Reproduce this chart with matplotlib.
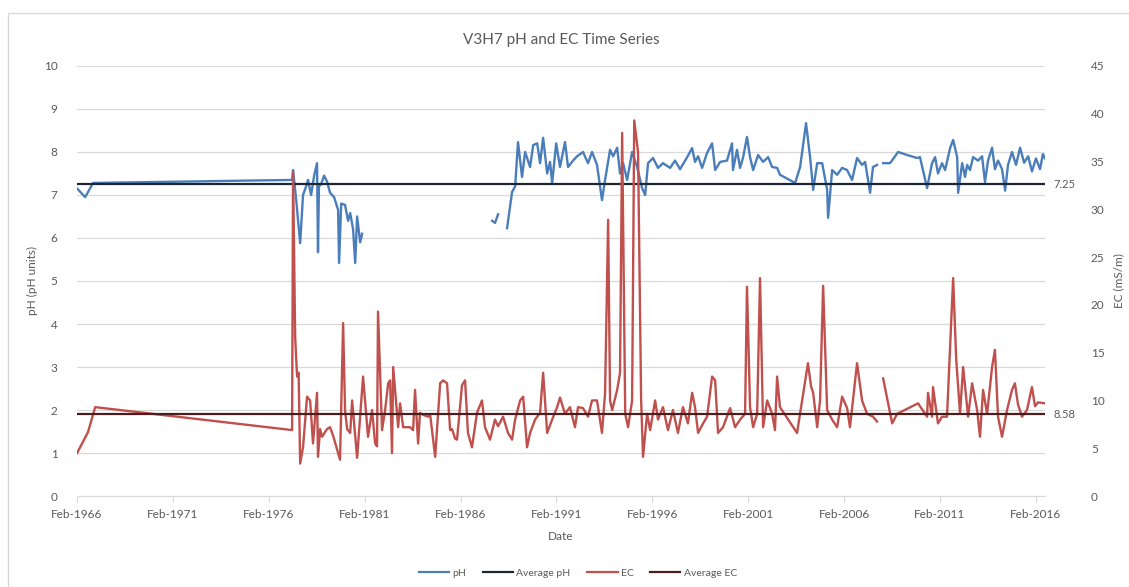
import matplotlib
matplotlib.use("Agg")
import matplotlib.pyplot as plt
from matplotlib.lines import Line2D
from matplotlib.patches import Rectangle
import numpy as np

plt.rcParams['font.family'] = ['Lato', 'DejaVu Sans']

### Data ###

# sample dates as decimal years, NaN marks a break in the pH record
ph_years = [1966.09, 1966.51, 1966.92, 1977.30, 1977.35, 1977.51, 1977.72, 1977.87,
            1978.03, 1978.13, 1978.29, 1978.45, 1978.60, 1978.65, 1978.70, 1978.81,
            1978.97, 1979.13, 1979.28, 1979.49, 1979.70, 1979.75, 1979.86, 1980.06,
            1980.22, 1980.33, 1980.48, 1980.59, 1980.69, 1980.85, 1980.95, np.nan,
            1987.73, 1987.88, 1988.04, np.nan,
            1988.51, 1988.77, 1988.93, 1989.08, 1989.29, 1989.45, 1989.71, 1989.87,
            1990.08, 1990.23, 1990.39, 1990.60, 1990.75, 1990.86, 1991.07, 1991.27,
            1991.53, 1991.69, 1991.95, 1992.16, 1992.47, 1992.73, 1992.94, 1993.20,
            1993.46, 1993.62, 1993.88, 1994.04, 1994.25, 1994.40, 1994.56, 1994.77,
            1995.03, 1995.29, 1995.55, 1995.71, 1995.86, 1996.12, 1996.38, 1996.64,
            1997.01, 1997.27, 1997.53, 1997.90, 1998.16, 1998.31, 1998.47, 1998.68,
            1998.94, 1999.20, 1999.36, 1999.62, 1999.98, 2000.24, 2000.29, 2000.50,
            2000.66, 2000.82, 2001.02, 2001.18, 2001.34, 2001.60, 2001.86, 2002.12,
            2002.33, 2002.59, 2002.74, 2003.53, 2003.79, 2004.10, 2004.31, 2004.47,
            2004.68, 2004.94, 2005.20, 2005.25, 2005.46, 2005.72, 2005.98, 2006.24,
            2006.50, 2006.76, 2007.02, 2007.18, 2007.44, 2007.59, 2007.80, np.nan,
            2008.12, 2008.48, 2008.90, 2009.37, 2009.89, 2010.04, 2010.41, 2010.67,
            2010.83, 2010.98, 2011.19, 2011.35, 2011.61, 2011.77, 2011.98, 2012.03,
            2012.24, 2012.39, 2012.50, 2012.65, 2012.81, 2013.07, 2013.28, 2013.43,
            2013.59, 2013.80, 2013.95, 2014.11, 2014.32, 2014.48, 2014.63, 2014.84,
            2015.05, 2015.26, 2015.47, 2015.68, 2015.88, 2016.09, 2016.30, 2016.45,
            2016.56]
ph_values = [7.15, 6.95, 7.28, 7.35, 7.58, 6.90, 5.88, 7.00,
             7.20, 7.35, 7.00, 7.45, 7.74, 5.67, 7.20, 7.25,
             7.45, 7.30, 7.05, 6.95, 6.65, 5.42, 6.80, 6.77,
             6.40, 6.58, 6.20, 5.42, 6.50, 5.90, 6.10, np.nan,
             6.40, 6.35, 6.55, np.nan,
             6.23, 7.07, 7.20, 8.23, 7.42, 8.00, 7.65, 8.16,
             8.20, 7.74, 8.33, 7.50, 7.77, 7.28, 8.20, 7.65,
             8.23, 7.65, 7.80, 7.90, 8.00, 7.74, 8.00, 7.70,
             6.88, 7.35, 8.05, 7.90, 8.10, 7.50, 7.74, 7.35,
             8.00, 7.65, 7.16, 7.00, 7.74, 7.86, 7.63, 7.74,
             7.63, 7.80, 7.60, 7.88, 8.09, 7.77, 7.90, 7.63,
             7.98, 8.20, 7.58, 7.77, 7.80, 8.20, 7.58, 8.05,
             7.63, 7.88, 8.35, 7.88, 7.58, 7.93, 7.77, 7.88,
             7.65, 7.63, 7.47, 7.28, 7.65, 8.67, 7.88, 7.12,
             7.74, 7.74, 7.12, 6.47, 7.58, 7.47, 7.63, 7.58,
             7.35, 7.86, 7.70, 7.77, 7.05, 7.65, 7.70, np.nan,
             7.74, 7.74, 8.00, 7.93, 7.86, 7.88, 7.16, 7.74,
             7.88, 7.50, 7.74, 7.58, 8.09, 8.28, 7.88, 7.05,
             7.74, 7.42, 7.70, 7.58, 7.88, 7.80, 7.90, 7.30,
             7.80, 8.10, 7.60, 7.80, 7.60, 7.10, 7.70, 8.00,
             7.70, 8.10, 7.75, 7.90, 7.55, 7.85, 7.60, 7.95,
             7.85]

ec_years = [1966.09, 1966.66, 1967.03, 1977.30, 1977.35, 1977.46, 1977.56, 1977.64,
            1977.72, 1977.87, 1978.08, 1978.24, 1978.39, 1978.60, 1978.65, 1978.76,
            1978.86, 1979.12, 1979.28, 1979.44, 1979.80, 1979.96, 1980.06, 1980.17,
            1980.33, 1980.43, 1980.69, 1981.00, 1981.26, 1981.47, 1981.63, 1981.73,
            1981.78, 1981.99, 1982.15, 1982.31, 1982.41, 1982.51, 1982.57, 1982.83,
            1982.93, 1983.09, 1983.45, 1983.61, 1983.71, 1983.87, 1983.97, 1984.13,
            1984.39, 1984.50, 1984.76, 1985.02, 1985.17, 1985.38, 1985.54, 1985.64,
            1985.80, 1985.90, 1986.16, 1986.32, 1986.47, 1986.68, 1986.94, 1987.20,
            1987.36, 1987.62, 1987.88, 1988.04, 1988.30, 1988.56, 1988.77, 1988.93,
            1989.19, 1989.35, 1989.55, 1989.71, 1989.97, 1990.23, 1990.39, 1990.60,
            1990.86, 1991.12, 1991.27, 1991.53, 1991.79, 1992.05, 1992.21, 1992.47,
            1992.73, 1992.94, 1993.20, 1993.46, 1993.62, 1993.78, 1993.88, 1993.99,
            1994.25, 1994.40, 1994.51, 1994.67, 1994.82, 1995.03, 1995.14, 1995.34,
            1995.50, 1995.60, 1995.81, 1995.97, 1996.23, 1996.38, 1996.64, 1996.90,
            1997.16, 1997.42, 1997.68, 1997.94, 1998.16, 1998.31, 1998.47, 1998.73,
            1998.94, 1999.20, 1999.36, 1999.51, 1999.77, 2000.14, 2000.40, 2000.66,
            2000.92, 2001.02, 2001.18, 2001.34, 2001.55, 2001.70, 2001.86, 2002.07,
            2002.33, 2002.48, 2002.59, 2002.74, 2003.63, 2004.20, 2004.36, 2004.47,
            2004.68, 2004.83, 2004.99, 2005.20, 2005.46, 2005.72, 2005.98, 2006.24,
            2006.39, 2006.76, 2007.02, 2007.28, 2007.59, 2007.80, np.nan,
            2008.12, 2008.59, 2008.85, 2009.94, 2010.41, 2010.46, 2010.67, 2010.72,
            2010.98, 2011.19, 2011.45, 2011.77, 2011.93, 2012.13, 2012.29, 2012.55,
            2012.76, 2013.02, 2013.17, 2013.33, 2013.54, 2013.80, 2013.95, 2014.11,
            2014.32, 2014.58, 2014.84, 2014.99, 2015.15, 2015.36, 2015.62, 2015.88,
            2016.04, 2016.20, 2016.56]
ec_values = [4.5, 6.7, 9.3, 6.9, 33.9, 16.6, 12.5, 12.9,
             3.4, 5.1, 10.4, 10.0, 5.5, 10.8, 4.1, 7.0,
             6.2, 7.0, 7.2, 6.3, 3.8, 18.1, 9.0, 7.0,
             6.6, 10.0, 4.0, 12.5, 6.2, 9.0, 5.5, 5.2,
             19.3, 6.9, 9.0, 11.8, 12.1, 4.5, 13.5, 7.2,
             9.7, 7.2, 7.2, 6.9, 11.1, 5.5, 8.7, 8.5,
             8.3, 8.5, 4.1, 11.8, 12.1, 11.8, 6.9, 7.0,
             6.0, 5.9, 11.6, 12.1, 6.6, 5.1, 8.7, 10.0,
             7.2, 5.9, 8.0, 7.3, 8.3, 6.6, 5.9, 8.0,
             10.0, 10.4, 5.1, 6.6, 8.0, 8.7, 12.9, 6.6,
             8.0, 9.3, 10.3, 8.6, 9.3, 7.2, 9.3, 9.2,
             8.3, 10.0, 10.0, 6.6, 10.8, 28.9, 10.0, 9.0,
             11.1, 12.9, 38.0, 8.6, 7.2, 10.0, 39.3, 36.0,
             10.0, 4.1, 8.6, 6.9, 10.0, 8.0, 9.3, 6.9,
             9.0, 6.6, 9.3, 7.6, 10.8, 9.3, 6.6, 7.6,
             8.3, 12.5, 12.1, 6.6, 7.2, 9.2, 7.2, 8.0,
             8.6, 21.9, 9.3, 7.2, 8.6, 22.8, 7.2, 10.0,
             8.6, 6.9, 12.5, 9.3, 6.6, 13.9, 11.5, 10.8,
             7.2, 10.0, 22.0, 9.0, 8.0, 7.2, 10.4, 9.2,
             7.2, 13.9, 10.0, 8.6, 8.3, 7.8, np.nan,
             12.3, 7.6, 8.6, 9.7, 8.3, 10.8, 8.3, 11.4,
             7.6, 8.3, 8.3, 22.8, 14.3, 8.6, 13.5, 8.3,
             11.8, 9.0, 6.2, 11.1, 8.6, 13.5, 15.3, 8.3,
             6.2, 9.0, 11.1, 11.8, 9.6, 8.3, 9.0, 11.4,
             9.4, 9.8, 9.7]

avg_ph = 7.25
avg_ec = 8.58

tick_years = [1966, 1971, 1976, 1981, 1986, 1991, 1996, 2001, 2006, 2011, 2016]

### Plot ###

ph_color = '#4a7ebb'
ec_color = '#c0504d'
avg_ph_color = '#1d2633'
avg_ec_color = '#4a1e1e'
text_color = '#595959'
grid_color = '#d9d9d9'

fig = plt.figure(figsize=(11.29, 5.87), dpi=100)
fig.patches.append(Rectangle((0.007, -0.05), 1.1, 1.028, transform=fig.transFigure,
                             facecolor='none', edgecolor='#d9d9d9', linewidth=1))

ax = fig.add_axes([0.0682, 0.155, 0.8574, 0.7326])
ax2 = ax.twinx()

x_start, x_end = ph_years[0], 2016.56

ax.plot(ph_years, ph_values, color=ph_color, linewidth=1.7, zorder=3)
ax.plot([x_start, x_end], [avg_ph, avg_ph], color=avg_ph_color, linewidth=1.6, zorder=4)
ax2.plot(ec_years, ec_values, color=ec_color, linewidth=1.7, zorder=3)
ax2.plot([x_start, x_end], [avg_ec, avg_ec], color=avg_ec_color, linewidth=1.6, zorder=4)

ax.set_xlim(x_start, x_end)
ax.set_ylim(0, 10)
ax2.set_ylim(0, 45)
ax.set_yticks(range(0, 11))
ax2.set_yticks(range(0, 46, 5))

# Feb of every fifth year
ax.set_xticks([y + 1 / 12 for y in tick_years])
ax.set_xticklabels([f'Feb-{y}' for y in tick_years])

ax.grid(axis='y', color=grid_color, linewidth=0.9)
ax.set_axisbelow(True)
for a in (ax, ax2):
    for side in ('top', 'left', 'right'):
        a.spines[side].set_visible(False)
    a.spines['bottom'].set_color(grid_color)
ax2.spines['bottom'].set_visible(False)

ax.tick_params(axis='x', colors=text_color, labelsize=8.5, length=4, color=grid_color, pad=5)
ax.tick_params(axis='y', colors=text_color, labelsize=8.5, length=0, pad=14)
ax2.tick_params(axis='y', colors=text_color, labelsize=8.5, length=0, pad=33)

# value labels at the end of the average lines
ax.text(x_end + 0.45, avg_ph, f'{avg_ph:.2f}', color=text_color, fontsize=8,
        va='center', ha='left', clip_on=False)
ax2.text(x_end + 0.45, avg_ec, f'{avg_ec:.2f}', color=text_color, fontsize=8,
         va='center', ha='left', clip_on=False)

ax.set_title('V3H7 pH and EC Time Series', color=text_color, fontsize=11, pad=16)
ax.set_xlabel('Date', color=text_color, fontsize=8.5, labelpad=8)
ax.set_ylabel('pH (pH units)', color=text_color, fontsize=8.5, labelpad=4)
ax2.set_ylabel('EC (mS/m)', color=text_color, fontsize=8.5, labelpad=6)

handles = [Line2D([], [], color=ph_color, linewidth=1.6),
           Line2D([], [], color=avg_ph_color, linewidth=1.6),
           Line2D([], [], color=ec_color, linewidth=1.6),
           Line2D([], [], color=avg_ec_color, linewidth=1.6)]
fig.legend(handles, ['pH', 'Average pH', 'EC', 'Average EC'], loc='center',
           bbox_to_anchor=(0.512, 0.024), ncol=4, frameon=False, fontsize=7.5,
           labelcolor=text_color, handlelength=2.9, handletextpad=0.3, columnspacing=1.6)

fig.savefig('out.png', dpi=100)
